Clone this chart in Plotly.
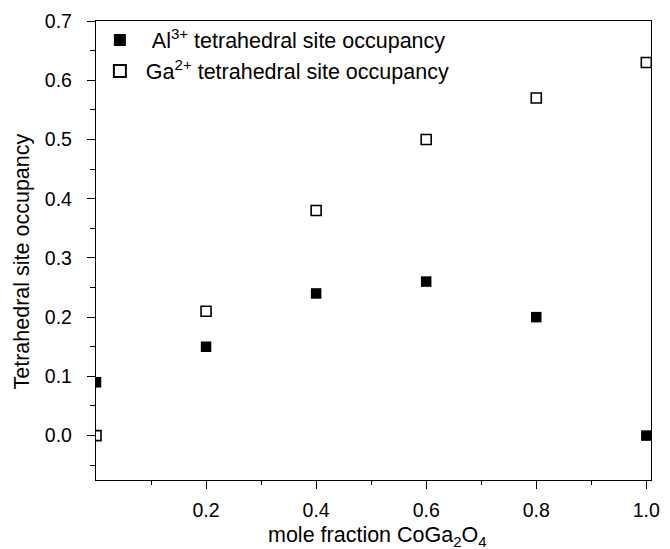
import plotly.graph_objects as go

mole_fraction = [0.0, 0.2, 0.4, 0.6, 0.8, 1.0]
al_occupancy = [0.09, 0.15, 0.24, 0.26, 0.20, 0.0]
ga_occupancy = [0.0, 0.21, 0.38, 0.50, 0.57, 0.63]

x_tickvals = [0.2, 0.4, 0.6, 0.8, 1.0]
x_ticktext = ["0.2", "0.4", "0.6", "0.8", "1.0"]
y_tickvals = [0.0, 0.1, 0.2, 0.3, 0.4, 0.5, 0.6, 0.7]
y_ticktext = ["0.0", "0.1", "0.2", "0.3", "0.4", "0.5", "0.6", "0.7"]

FONT = "Arial, Liberation Sans, sans-serif"

fig = go.Figure()
fig.add_trace(go.Scatter(
    x=mole_fraction, y=al_occupancy, mode="markers",
    name="\u00a0\u00a0Al<sup>3+</sup> tetrahedral site occupancy",
    marker=dict(symbol="square", size=10.5, color="black", line=dict(width=0)),
))
fig.add_trace(go.Scatter(
    x=mole_fraction, y=ga_occupancy, mode="markers",
    name="\u00a0Ga<sup>2+</sup> tetrahedral site occupancy",
    marker=dict(symbol="square-open", size=10, color="black", line=dict(width=1.6)),
))

fig.update_layout(
    width=670, height=549,
    margin=dict(l=96, r=10, t=21, b=69),
    paper_bgcolor="white", plot_bgcolor="white",
    font=dict(family=FONT, size=20, color="black"),
    showlegend=True,
    legend=dict(x=0.007, y=1.003, xanchor="left", yanchor="top",
                bgcolor="rgba(0,0,0,0)", font=dict(size=21.5),
                tracegroupgap=0, itemsizing="constant"),
    xaxis=dict(
        range=[0.0, 1.0085], showgrid=False, zeroline=False,
        showline=True, linecolor="black", linewidth=1.3, mirror=True,
        tickmode="array", tickvals=x_tickvals, ticktext=x_ticktext,
        ticks="outside", ticklen=8, tickwidth=1.3, tickcolor="black",
        ticklabelstandoff=4,
        minor=dict(tickmode="array", tickvals=[0.1, 0.3, 0.5, 0.7, 0.9],
                   ticks="outside", ticklen=4, tickwidth=1.3, tickcolor="black"),
        tickfont=dict(size=19.5),
    ),
    yaxis=dict(
        range=[-0.075, 0.7], showgrid=False, zeroline=False,
        showline=True, linecolor="black", linewidth=1.3, mirror=True,
        tickmode="array", tickvals=y_tickvals, ticktext=y_ticktext,
        ticks="outside", ticklen=8, tickwidth=1.3, tickcolor="black",
        ticklabelstandoff=11,
        minor=dict(tickmode="array",
                   tickvals=[-0.05, 0.05, 0.15, 0.25, 0.35, 0.45, 0.55, 0.65],
                   ticks="outside", ticklen=5, tickwidth=1.3, tickcolor="black"),
        tickfont=dict(size=19.5),
    ),
    annotations=[
        dict(text="mole fraction CoGa<sub>2</sub>O<sub>4</sub>",
             xref="paper", yref="paper", x=0.5, y=0, yshift=-56, xshift=4,
             xanchor="center", yanchor="middle", showarrow=False,
             font=dict(size=21.5)),
        dict(text="Tetrahedral site occupancy", textangle=-90,
             xref="paper", yref="paper", x=0, xshift=-75, y=0.5, yshift=-11,
             xanchor="center", yanchor="middle", showarrow=False,
             font=dict(size=21.5)),
    ],
)

fig.write_html("out.html")
